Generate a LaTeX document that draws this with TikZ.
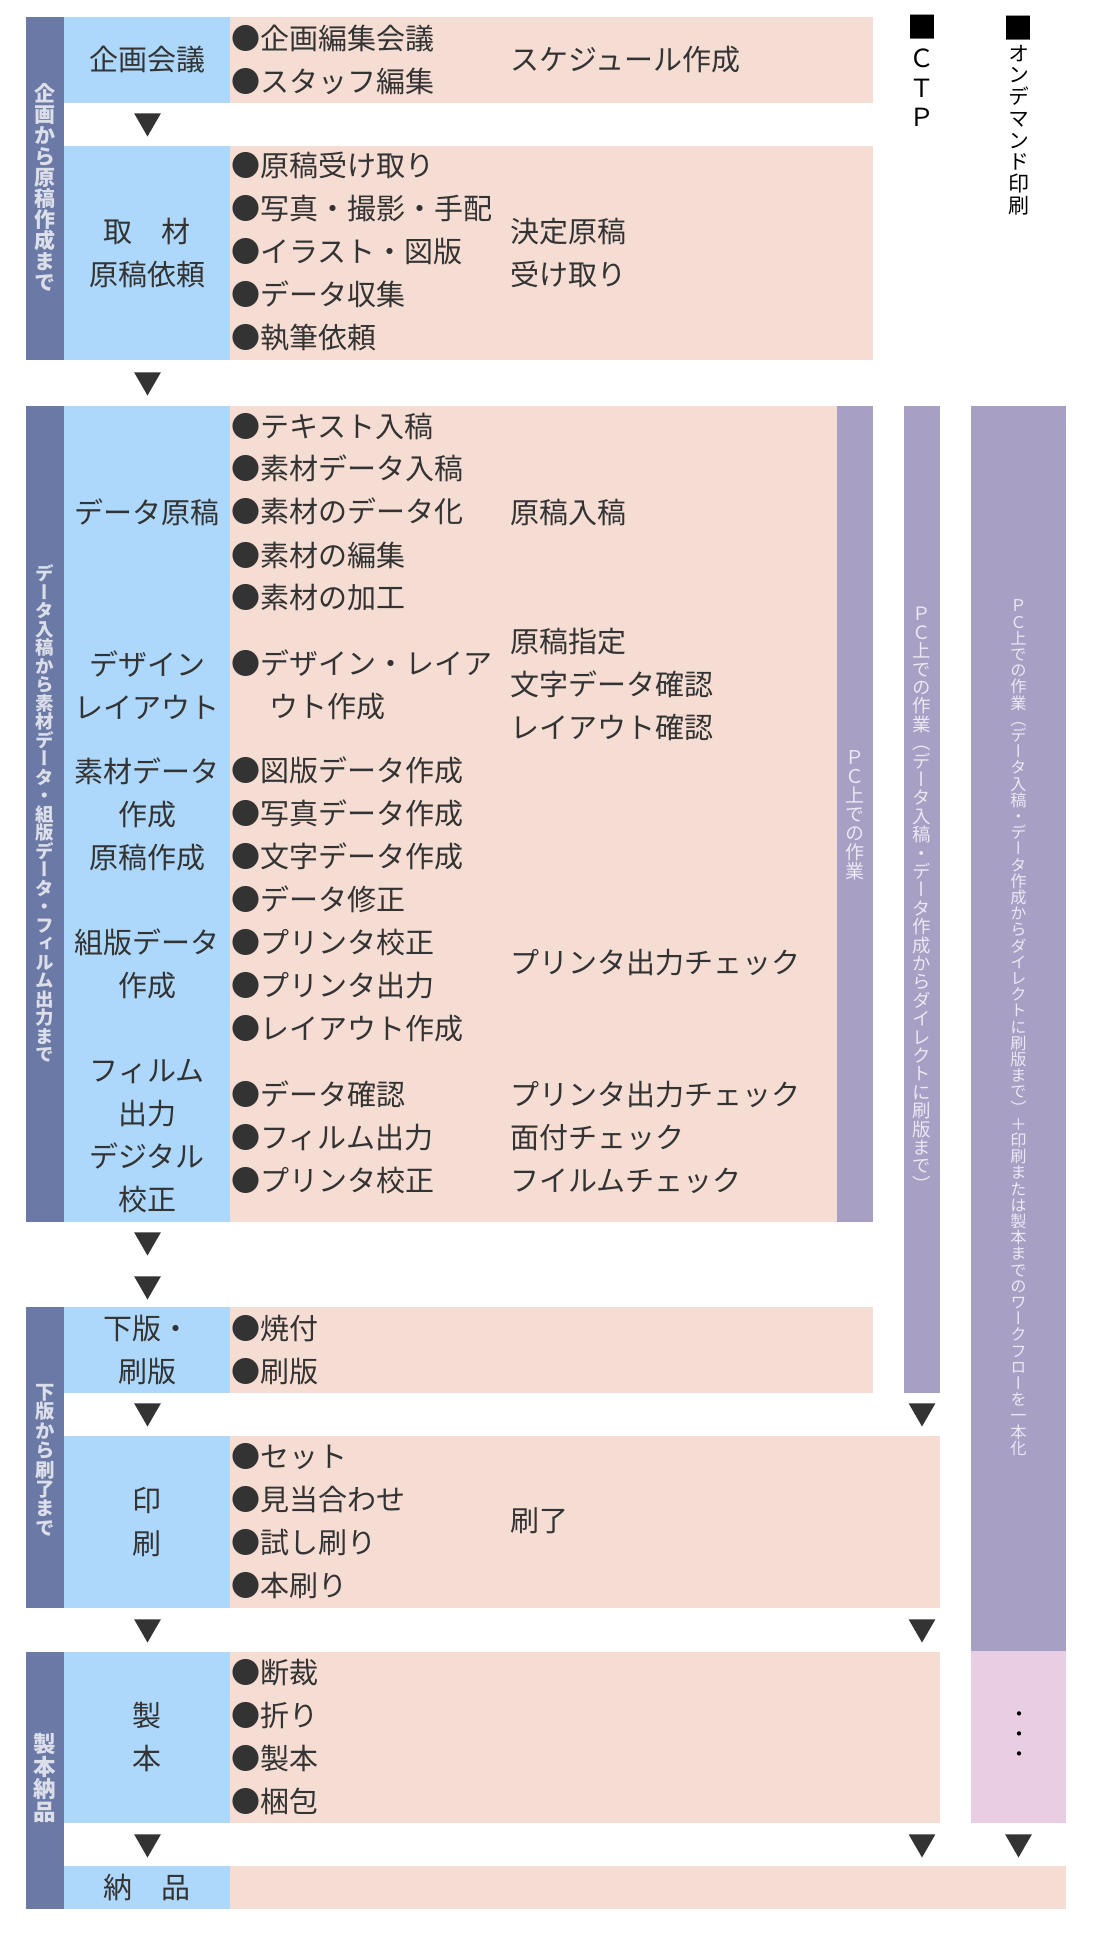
\documentclass[tikz,border=0pt]{standalone}
\usepackage{fontspec}
\setmainfont{Noto Sans CJK JP}
\newfontfamily\tatefont[RawFeature=+vert]{Noto Sans CJK JP}
\usepackage{xcolor}
\usepackage{tikz}
\usetikzlibrary{shapes.geometric}

\definecolor{barcol}{HTML}{6A79A5}
\definecolor{labcol}{HTML}{ADD8FC}
\definecolor{bodycol}{HTML}{F5DDD4}
\definecolor{pccol}{HTML}{A79FC4}
\definecolor{odcol}{HTML}{E8CDE3}
\definecolor{inkcol}{HTML}{333333}
\definecolor{bartext}{HTML}{DCDFEA}
\definecolor{pctext}{HTML}{ECE9F3}

% vertical (tategaki) stack, one character per cell
\ExplSyntaxOn
\NewDocumentCommand \tate { O{1em} m }
  {
    \vbox
      {
        \offinterlineskip
        \tl_map_inline:nn {#2}
          {
            \hbox_to_wd:nn {1em}
              {
                \hss
                \vrule height \dimexpr #1/2 + .38em \relax
                       depth \dimexpr #1/2 - .38em \relax
                       width 0pt
                ##1
                \hss
              }
          }
      }
  }
\ExplSyntaxOff
\newcommand\bigsq{{\fontsize{30}{30}\selectfont ■}}

\begin{document}
\begin{tikzpicture}[x=1pt, y=-1pt,
  lab/.style={font=\fontsize{29}{43}\selectfont, text=inkcol, align=center, inner sep=0pt},
  item/.style={font=\fontsize{29}{43}\selectfont, text=inkcol, align=left, anchor=west, inner sep=0pt},
  vlab/.style={font=\tatefont\bfseries\fontsize{#1}{#1}\selectfont, text=bartext, inner sep=0pt},
  pclab/.style={font=\tatefont\fontsize{#1}{#1}\selectfont, text=pctext, inner sep=0pt},
  head/.style={font=\tatefont\fontsize{#1}{#1}\selectfont, text=black, inner sep=0pt},
  down/.style={regular polygon, regular polygon sides=3, shape border rotate=180,
               fill=inkcol, minimum size=31pt, inner sep=0pt}
]
  \useasboundingbox (0,0) rectangle (1100,1949);

  % section 1
  \fill[barcol] (26,17) rectangle (64,360);
  \fill[labcol] (64,17) rectangle (230,103);
  \fill[bodycol] (230,17) rectangle (873,103);
  \fill[labcol] (64,146) rectangle (230,360);
  \fill[bodycol] (230,146) rectangle (873,360);

  % section 2
  \fill[barcol] (26,406) rectangle (64,1222);
  \fill[labcol] (64,406) rectangle (230,1222);
  \fill[bodycol] (230,406) rectangle (837,1222);
  \fill[pccol] (837,406) rectangle (873,1222);
  \fill[pccol] (904,406) rectangle (940,1393);
  \fill[pccol] (971,406) rectangle (1066,1651);
  \fill[odcol] (971,1651) rectangle (1066,1823);

  % section 3
  \fill[barcol] (26,1307) rectangle (64,1608);
  \fill[labcol] (64,1307) rectangle (230,1393);
  \fill[bodycol] (230,1307) rectangle (873,1393);
  \fill[labcol] (64,1436) rectangle (230,1608);
  \fill[bodycol] (230,1436) rectangle (940,1608);

  % section 4
  \fill[barcol] (26,1652) rectangle (64,1909);
  \fill[labcol] (64,1652) rectangle (230,1823);
  \fill[bodycol] (230,1652) rectangle (940,1823);
  \fill[labcol] (64,1866) rectangle (230,1909);
  \fill[bodycol] (230,1866) rectangle (1066,1909);

  \node[head=25] (ctphead) at (922,73) {\tate[29.3pt]{{\bigsq}ＣＴＰ}};
  \node[head=21] (odhead) at (1018.5,116) {\tate[21.75pt]{{\bigsq}オンデマンド印刷}};

  \node[vlab=21] (sec1) at (45,188) {\tate{企画から原稿作成まで}};
  \node[lab] (kikaku) at (147,60) {企画会議};
  \node[item] (kikakuitem) at (231,60) {●企画編集会議\\●スタッフ編集};
  \node[item] (kikakunote) at (510,60) {スケジュール作成};
  \node[down] (ar1) at (147.5,121) {};
  \node[lab] (shuzai) at (147,253) {取　材\\原稿依頼};
  \node[item] (shuzaiitem) at (231,252) {●原稿受け取り\\●写真・撮影・手配\\●イラスト・図版\\●データ収集\\●執筆依頼};
  \node[item] (shuzainote) at (510,253) {決定原稿\\受け取り};
  \node[down] (ar2) at (147.5,380) {};

  \node[vlab=18.5] (sec2) at (45,814) {\tate{データ入稿から素材データ・組版データ・フィルム出力まで}};
  \node[lab] (datagen) at (147,512) {データ原稿};
  \node[item] (datagenitem) at (231,512) {●テキスト入稿\\●素材データ入稿\\●素材のデータ化\\●素材の編集\\●素材の加工};
  \node[item] (datagennote) at (510,512) {原稿入稿};
  \node[lab] (design) at (147,685) {デザイン\\レイアウト};
  \node[item] (designitem) at (231,685) {●デザイン・レイア\\\hspace*{1.32em}ウト作成};
  \node[item] (designnote) at (510,684) {原稿指定\\文字データ確認\\レイアウト確認};
  \node[lab] (sozai) at (147,814) {素材データ\\作成\\原稿作成};
  \node[item] (sozaiitem) at (231,899.5) {●図版データ作成\\●写真データ作成\\●文字データ作成\\●データ修正\\●プリンタ校正\\●プリンタ出力\\●レイアウト作成};
  \node[lab] (kumihan) at (147,964) {組版データ\\作成};
  \node[item] (kumihannote) at (510,963) {プリンタ出力チェック};
  \node[lab] (film) at (147,1136) {フィルム\\出力\\デジタル\\校正};
  \node[item] (filmitem) at (231,1137) {●データ確認\\●フィルム出力\\●プリンタ校正};
  \node[item] (filmnote) at (510,1137) {プリンタ出力チェック\\面付チェック\\フイルムチェック};
  \node[pclab=19] (pcwork) at (855,814) {\tate{ＰＣ上での作業}};
  \node[pclab=18.4] (ctpwork) at (922,899) {\tate{ＰＣ上での作業（データ入稿・データ作成からダイレクトに刷版まで）}};
  \node[pclab=16.2] (odwork) at (1018.5,1027) {\tate{ＰＣ上での作業（データ入稿・データ作成からダイレクトに刷版まで）＋印刷または製本までのワークフローを一本化}};
  \node[down] (ar3) at (147.5,1240) {};
  \node[down] (ar4) at (147.5,1284) {};

  \node[vlab=19.4] (sec3) at (45,1460) {\tate{下版から刷了まで}};
  \node[lab] (hanka) at (147,1350) {下版・\\刷版};
  \node[item] (hankaitem) at (231,1350) {●焼付\\●刷版};
  \node[down] (ar5) at (147.5,1411) {};
  \node[down] (ar5ctp) at (922,1411) {};
  \node[lab] (insatsu) at (147,1521.5) {印\\刷};
  \node[item] (insatsuitem) at (231,1521.5) {●セット\\●見当合わせ\\●試し刷り\\●本刷り};
  \node[item] (insatsunote) at (510,1521) {刷了};
  \node[down] (ar6) at (147.5,1627) {};
  \node[down] (ar6ctp) at (922,1627) {};

  \node[vlab=22.5] (sec4) at (45,1778) {\tate{製本納品}};
  \node[lab] (seihon) at (147,1737) {製\\本};
  \node[item] (seihonitem) at (231,1737) {●断裁\\●折り\\●製本\\●梱包};
  \node[head=20] (oddots) at (1019,1734) {\tate{・・・}};
  \node[down] (ar7) at (147.5,1842) {};
  \node[down] (ar7ctp) at (922,1842) {};
  \node[down] (ar7od) at (1018.5,1842) {};
  \node[lab] (nohin) at (147,1887) {納　品};
\end{tikzpicture}
\end{document}
